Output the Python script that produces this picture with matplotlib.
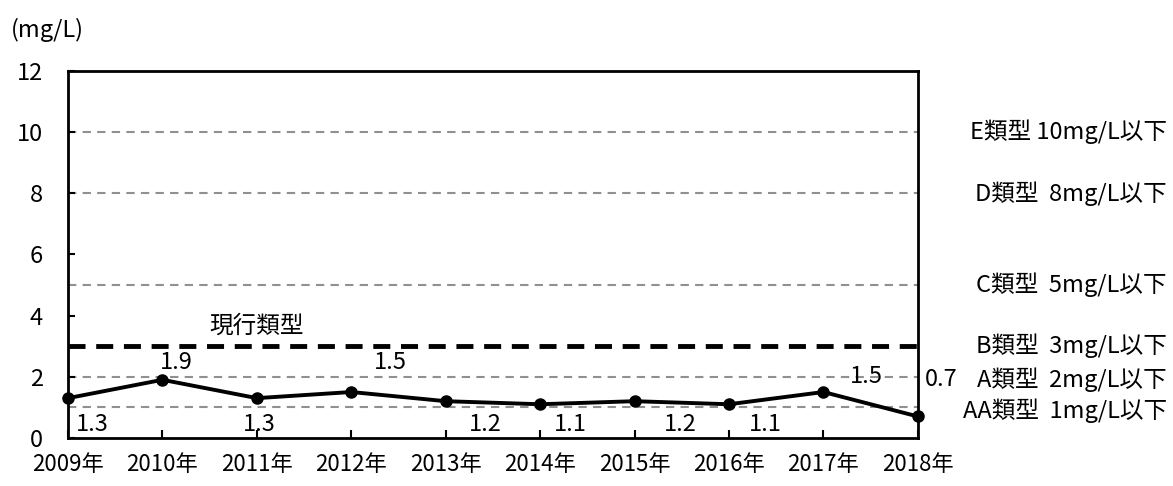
import numpy as np
import matplotlib
matplotlib.use('Agg')
import matplotlib.pyplot as plt

plt.rcParams['font.family'] = ['Noto Sans CJK JP', 'DejaVu Sans']

# data
years = ['2009年', '2010年', '2011年', '2012年', '2013年',
         '2014年', '2015年', '2016年', '2017年', '2018年']
values = [1.3, 1.9, 1.3, 1.5, 1.2, 1.1, 1.2, 1.1, 1.5, 0.7]
# where each value label sits (x, y in data units)
label_pos = [(0.26, 0.45), (1.15, 2.45), (2.03, 0.45), (3.41, 2.45), (4.42, 0.45),
             (5.32, 0.45), (6.48, 0.45), (7.38, 0.45), (8.45, 2.0), (9.25, 1.9)]

class_levels = [10, 8, 5, 2, 1]
class_labels = ['E類型 10mg/L以下', 'D類型  8mg/L以下', 'C類型  5mg/L以下',
                'B類型  3mg/L以下', 'A類型  2mg/L以下', 'AA類型  1mg/L以下']
class_label_y = [10, 8, 5, 3, 1.9, 0.9]
current_level = 3

fs = 17

fig = plt.figure(figsize=(11.73, 4.86), dpi=100)
ax = fig.add_axes([0.058, 0.099, 0.7245, 0.755])

x = np.arange(len(years))
for lv in class_levels:
    ax.axhline(lv, color='#909090', lw=1.5, ls=(0, (4, 3)), zorder=1)
ax.axhline(current_level, color='black', lw=3.5, ls=(0, (3.5, 2.2)), zorder=2)
ax.text(2.0, 3.65, '現行類型', fontsize=fs, ha='center', va='center')

ax.plot(x, values, color='black', lw=2.8, marker='o', ms=8, zorder=3, clip_on=False)
for v, (px, py) in zip(values, label_pos):
    ax.text(px, py, f'{v:.1f}', fontsize=fs, ha='center', va='center',
            clip_on=False, zorder=4)

ax.set_xlim(0, 9)
ax.set_ylim(0, 12)
ax.set_xticks(x)
ax.set_xticklabels(years, fontsize=16)
ax.set_yticks(np.arange(0, 13, 2))
ax.tick_params(axis='y', direction='in', length=5, width=1.5, labelsize=fs, pad=18)
ax.tick_params(axis='x', direction='in', length=6, width=1.5, pad=11)
for s in ax.spines.values():
    s.set_linewidth(2)

label_x = (1167 - 68) / 850
for lab, ly in zip(class_labels, class_label_y):
    ax.text(label_x, ly, lab, transform=ax.get_yaxis_transform(), fontsize=fs,
            ha='right', va='center', clip_on=False)

fig.text(47 / 1173, 1 - 30 / 486, '(mg/L)', fontsize=fs, ha='center', va='center')

fig.savefig('out.png', dpi=100, facecolor='white')
